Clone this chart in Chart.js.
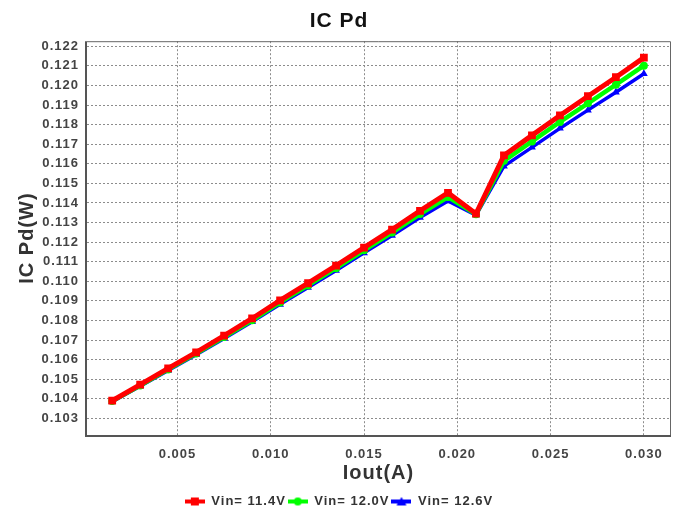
<!DOCTYPE html>
<html>
<head>
<meta charset="utf-8">
<script src="https://cdn.jsdelivr.net/npm/chart.js@4"></script>
<style>
html,body{margin:0;padding:0;background:#fff;}
#wrap{width:678px;height:516px;position:relative;}
</style>
</head>
<body>
<div id="wrap"><canvas id="c"></canvas></div>
<script>
const iout = [0.0015, 0.003, 0.0045, 0.006, 0.0075, 0.009, 0.0105, 0.012, 0.0135, 0.015,
              0.0165, 0.018, 0.0195, 0.021, 0.0225, 0.024, 0.0255, 0.027, 0.0285, 0.030];
const pd114 = [0.10390, 0.10472, 0.10555, 0.10637, 0.10723, 0.10810, 0.10902, 0.10990, 0.11080, 0.11172,
               0.11264, 0.11360, 0.11452, 0.11345, 0.11643, 0.11745, 0.11847, 0.11945, 0.12042, 0.12142];
const pd120 = [0.10388, 0.10468, 0.10550, 0.10631, 0.10715, 0.10801, 0.10892, 0.10979, 0.11067, 0.11158,
               0.11249, 0.11343, 0.11430, 0.11342, 0.11615, 0.11714, 0.11814, 0.11909, 0.12004, 0.12101];
const pd126 = [0.10385, 0.10464, 0.10545, 0.10625, 0.10708, 0.10793, 0.10882, 0.10968, 0.11055, 0.11145,
               0.11234, 0.11326, 0.11410, 0.11338, 0.11588, 0.11684, 0.11781, 0.11874, 0.11965, 0.12060];
const seriesNames = ['Vin= 11.4V', 'Vin= 12.0V', 'Vin= 12.6V'];
const xTicks = [0.005, 0.010, 0.015, 0.020, 0.025, 0.030];
const yTicks = [0.103, 0.104, 0.105, 0.106, 0.107, 0.108, 0.109, 0.110, 0.111, 0.112,
                0.113, 0.114, 0.115, 0.116, 0.117, 0.118, 0.119, 0.120, 0.121, 0.122];

const FONT = "'Liberation Sans', Arial, sans-serif";
const colors = ['#ff0000', '#00ff00', '#0000ff'];
const pStyles = ['rect', 'circle', 'triangle'];
const pRadius = [5.5, 4, 4.5];
const lWidth = [5, 4.5, 3.5];

// layout targets (pixels)
const AREA_LEFT = 87, AREA_BOTTOM = 435, PAD_LEFT = 8, PAD_BOTTOM = -2;

function pts(ys){ return iout.map((x,i)=>({x:x, y:ys[i]})); }

function legendIcon(i){
  const c = document.createElement('canvas');
  c.width = 20; c.height = 10;
  const g = c.getContext('2d');
  g.fillStyle = colors[i];
  g.fillRect(0, 3, 20, 4);
  if (i===0) g.fillRect(6, 1, 8, 8);
  else if (i===1) { g.beginPath(); g.arc(10,5,4,0,Math.PI*2); g.fill(); }
  else { g.beginPath(); g.moveTo(10,0.5); g.lineTo(15,9); g.lineTo(5,9); g.closePath(); g.fill(); }
  return c;
}

const spacing = {
  id: 'spacing',
  beforeUpdate(chart){ chart.ctx.letterSpacing = '1px'; },
  beforeLayout(chart){ chart.ctx.letterSpacing = '1px'; },
  beforeDraw(chart){ chart.ctx.letterSpacing = '1px'; }
};

const frame = {
  id: 'frame',
  afterDatasetsDraw(chart){
    const a = chart.chartArea, ctx = chart.ctx;
    ctx.save();
    ctx.strokeStyle = '#666';
    ctx.lineWidth = 1;
    ctx.beginPath();
    ctx.moveTo(a.left, a.top+0.5); ctx.lineTo(a.right+0.5, a.top+0.5); ctx.lineTo(a.right+0.5, a.bottom);
    ctx.stroke();
    ctx.lineWidth = 2;
    ctx.strokeStyle = '#555';
    ctx.beginPath();
    ctx.moveTo(a.left-1, a.top); ctx.lineTo(a.left-1, a.bottom+1); ctx.lineTo(a.right+1, a.bottom+1);
    ctx.stroke();
    ctx.restore();
  }
};

new Chart(document.getElementById('c'), {
  type: 'line',
  data: {
    datasets: [pd114, pd120, pd126].map((d,i)=>({
      label: seriesNames[i],
      data: pts(d),
      borderColor: colors[i],
      backgroundColor: colors[i],
      borderWidth: lWidth[i],
      pointStyle: pStyles[i],
      pointRadius: pRadius[i],
      pointBorderWidth: 0,
      pointHoverRadius: pRadius[i],
      tension: 0,
      fill: false
    }))
  },
  options: {
    responsive: true,
    maintainAspectRatio: false,
    animation: false,
    devicePixelRatio: 1,
    layout: { padding: { left: PAD_LEFT, right: 8, top: 4, bottom: PAD_BOTTOM } },
    plugins: {
      title: {
        display: true, text: 'IC Pd', color: '#111',
        font: { family: FONT, size: 21, weight: 'bold' },
        padding: { top: 5, bottom: 7 }
      },
      legend: {
        position: 'bottom',
        labels: {
          color: '#333',
          font: { family: FONT, size: 13, weight: 'bold' },
          usePointStyle: true,
          pointStyleWidth: 20,
          boxWidth: 20, boxHeight: 10,
          padding: 2,
          generateLabels(chart){
            return chart.data.datasets.map((ds,i)=>({
              text: ds.label, pointStyle: legendIcon(i), fontColor: '#333',
              datasetIndex: i, hidden: false, lineWidth: 0, strokeStyle: 'transparent', fillStyle: 'transparent'
            }));
          }
        }
      },
      tooltip: { enabled: false }
    },
    scales: {
      x: {
        type: 'linear',
        min: 0.00015, max: 0.0314,
        afterBuildTicks(s){ s.ticks = xTicks.map(v=>({value:v})); },
        afterFit(s){
          const legendH = s.chart.legend ? s.chart.legend.height : 25;
          s.height = s.chart.height - PAD_BOTTOM - legendH - AREA_BOTTOM;
        },
        ticks: {
          color: '#444', font: { family: FONT, size: 13, weight: 'bold' },
          padding: 12, maxRotation: 0,
          callback: v => v.toFixed(3)
        },
        grid: { color: '#8c8c8c', lineWidth: 1, drawTicks: false, tickLength: 0 },
        border: { display: false, dash: [2,2] },
        title: {
          display: true, text: 'Iout(A)', color: '#333',
          font: { family: FONT, size: 20, weight: 'bold' },
          padding: { top: 0, bottom: 8 }
        }
      },
      y: {
        type: 'linear',
        min: 0.10215, max: 0.12226,
        afterBuildTicks(s){ s.ticks = yTicks.map(v=>({value:v})); },
        afterFit(s){ s.width = AREA_LEFT - PAD_LEFT; },
        ticks: {
          color: '#444', font: { family: FONT, size: 13, weight: 'bold' },
          padding: 8,
          callback: v => v.toFixed(3)
        },
        grid: { color: '#8c8c8c', lineWidth: 1, drawTicks: false, tickLength: 0 },
        border: { display: false, dash: [2,2] },
        title: {
          display: true, text: 'IC Pd(W)', color: '#333',
          font: { family: FONT, size: 20, weight: 'bold' },
          padding: { top: 7, bottom: 0 }
        }
      }
    }
  },
  plugins: [spacing, frame]
});
</script>
</body>
</html>
